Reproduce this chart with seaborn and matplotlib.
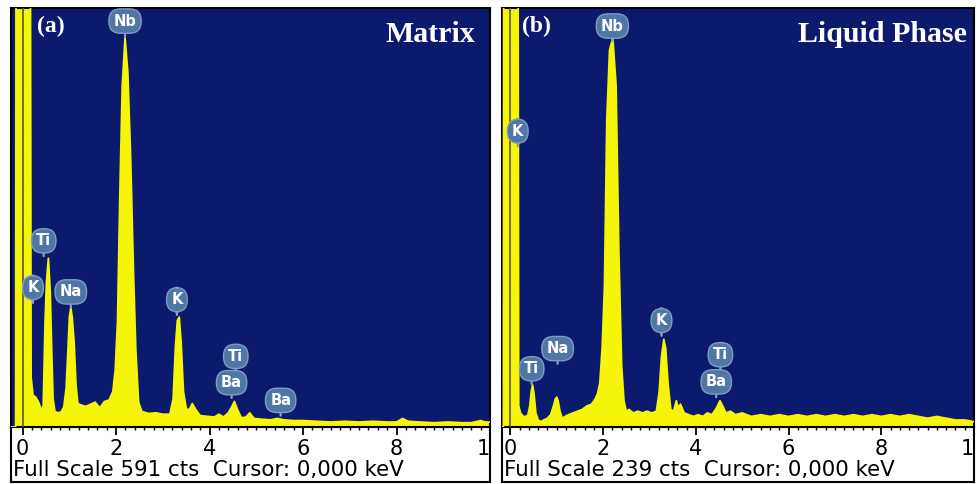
import numpy as np
import pandas as pd
import matplotlib
matplotlib.use("Agg")
import matplotlib.pyplot as plt
import seaborn as sns

# ---------------- data ----------------
energy_a = [-0.25, -0.15, -0.14, 0.16, 0.18, 0.22, 0.28, 0.34, 0.40, 0.44, 0.48, 0.51, 0.55,
            0.59, 0.62, 0.65, 0.69, 0.75, 0.82, 0.88, 0.93, 0.97, 1.00, 1.03, 1.06, 1.10,
            1.14, 1.18, 1.25, 1.35, 1.45, 1.55, 1.65, 1.75, 1.85, 1.93, 1.98, 2.03, 2.08,
            2.13, 2.19, 2.25, 2.31, 2.37, 2.42, 2.48, 2.55, 2.70, 2.85, 3.00, 3.15, 3.22,
            3.27, 3.31, 3.35, 3.39, 3.44, 3.50, 3.56, 3.63, 3.70, 3.80, 3.95, 4.10, 4.20,
            4.30, 4.40, 4.47, 4.53, 4.60, 4.68, 4.78, 4.86, 4.95, 5.10, 5.30, 5.45, 5.60,
            5.80, 6.00, 6.30, 6.60, 6.90, 7.20, 7.50, 7.80, 8.00, 8.13, 8.25, 8.50, 8.80,
            9.10, 9.40, 9.60, 9.80, 9.90, 10.00]
counts_a = [0, 0, 900, 900, 70, 45, 42, 35, 24, 30, 150, 205, 238,
            190, 110, 40, 22, 20, 21, 28, 55, 110, 155, 168, 155, 120,
            60, 33, 31, 29, 32, 35, 27, 36, 38, 50, 80, 150, 330,
            480, 549, 500, 380, 220, 110, 35, 22, 19, 20, 18, 18, 40,
            115, 150, 155, 120, 50, 26, 24, 33, 25, 16, 15, 14, 18,
            14, 20, 28, 36, 24, 13, 14, 20, 12, 11, 10, 12, 10,
            9, 9, 8, 7, 8, 7, 8, 7, 7, 12, 8, 7, 6,
            7, 6, 6, 9, 7, 7]

energy_b = [-0.18, -0.15, -0.14, 0.16, 0.18, 0.22, 0.28, 0.34, 0.38, 0.42, 0.45, 0.48, 0.51,
            0.55, 0.60, 0.66, 0.72, 0.80, 0.87, 0.93, 0.97, 1.00, 1.03, 1.07, 1.12, 1.18,
            1.25, 1.35, 1.45, 1.55, 1.65, 1.75, 1.83, 1.88, 1.93, 1.98, 2.03, 2.08, 2.14,
            2.21, 2.28, 2.34, 2.40, 2.45, 2.50, 2.56, 2.65, 2.75, 2.85, 2.95, 3.05, 3.15,
            3.21, 3.26, 3.31, 3.35, 3.40, 3.46, 3.52, 3.58, 3.62, 3.67, 3.75, 3.85, 3.95,
            4.05, 4.15, 4.25, 4.35, 4.45, 4.52, 4.58, 4.65, 4.75, 4.85, 5.00, 5.20, 5.40,
            5.60, 5.80, 6.00, 6.20, 6.40, 6.60, 6.80, 7.00, 7.20, 7.40, 7.60, 7.80, 8.00,
            8.20, 8.40, 8.60, 8.80, 9.00, 9.20, 9.40, 9.60, 9.80, 10.00]
counts_b = [0, 0, 400, 400, 12, 8, 6, 6, 7, 12, 20, 24, 19,
            8, 4, 3, 4, 5, 7, 12, 16, 17, 15, 9, 5, 6,
            7, 8, 9, 10, 12, 13, 16, 19, 25, 45, 80, 175, 215,
            222, 195, 100, 35, 15, 9, 10, 8, 9, 8, 9, 8, 9,
            20, 40, 50, 45, 25, 10, 9, 15, 11, 13, 8, 7, 6,
            7, 6, 8, 7, 11, 15, 12, 8, 9, 7, 8, 6, 7,
            6, 7, 6, 7, 6, 7, 6, 7, 6, 7, 6, 7, 6,
            7, 6, 7, 6, 5, 6, 5, 4, 4, 3]

full_scale_a = 591
full_scale_b = 239

peak_names_a = ["Nb", "Ti", "K", "Na", "K", "Ti", "Ba", "Ba"]
peak_x_a = [2.19, 0.45, 0.22, 1.03, 3.30, 4.56, 4.47, 5.52]
peak_y_a = [551, 241, 175, 169, 158, 78, 41, 16]

peak_names_b = ["Nb", "K", "Ti", "Na", "K", "Ti", "Ba"]
peak_x_b = [2.20, 0.16, 0.46, 1.02, 3.26, 4.53, 4.44]
peak_y_b = [220, 160, 24.5, 36, 52, 32.5, 17]

tick_values = [0, 2, 4, 6, 8, 10]
tick_labels = ["0", "2", "4", "6", "8", "10"]

panels = [
    dict(tag="(a)", title="Matrix", energy=energy_a, counts=counts_a, full=full_scale_a,
         names=peak_names_a, px=peak_x_a, py=peak_y_a, xlim=(-0.25, 9.985),
         box=(11, 490), tag_x=0.054, title_x=0.969),
    dict(tag="(b)", title="Liquid Phase", energy=energy_b, counts=counts_b, full=full_scale_b,
         names=peak_names_b, px=peak_x_b, py=peak_y_b, xlim=(-0.18, 9.97),
         box=(502, 974), tag_x=0.042, title_x=0.985),
]

# ---------------- styling ----------------
sns.set_theme(style="white")
plt.rcParams["font.family"] = ["DejaVu Sans"]

W, H = 977, 484
fig = plt.figure(figsize=(W / 100, H / 100), dpi=100)
fig.patch.set_facecolor("white")

NAVY = "#0b1a6c"
YELLOW = "#f6f408"
plot_top, plot_bot, strip_bot = 8, 427, 482

for p in panels:
    x0, x1 = p["box"]
    # white scale strip beneath the spectrum
    ax_s = fig.add_axes([x0 / W, (H - strip_bot) / H, (x1 - x0) / W, (strip_bot - plot_bot) / H])
    ax_s.set_zorder(0)
    ax_s.set_facecolor("white")
    ax_s.set_xticks([])
    ax_s.set_yticks([])
    for s in ax_s.spines.values():
        s.set_color("black")
        s.set_linewidth(1.5)
    ax_s.text(0.004, 0.22, f"Full Scale {p['full']} cts  Cursor: 0,000 keV",
              transform=ax_s.transAxes, ha="left", va="center", fontsize=15.4,
              color="black", family=["DejaVu Sans"])

    ax = fig.add_axes([x0 / W, (H - plot_bot) / H, (x1 - x0) / W, (plot_bot - plot_top) / H])
    ax.set_zorder(1)
    ax.set_facecolor(NAVY)
    df = pd.DataFrame({"energy": p["energy"], "counts": p["counts"]})
    ax.fill_between(df["energy"], 0, df["counts"], color=YELLOW, lw=0, zorder=2)
    sns.lineplot(data=df, x="energy", y="counts", ax=ax, color=YELLOW, lw=1.3,
                 estimator=None, sort=False, zorder=3)
    ax.axvline(0, color="#5a5a20", lw=1.2, zorder=4)
    ax.set_xlim(*p["xlim"])
    ax.set_ylim(0, p["full"])
    ax.set_xlabel("")
    ax.set_ylabel("")
    ax.set_yticks([])
    ax.set_xticks(tick_values)
    ax.set_xticklabels(tick_labels)
    ax.set_xticks(np.arange(0, 10.01, 0.2), minor=True)
    ax.tick_params(axis="x", which="major", direction="out", length=6, width=1.3,
                   color="black", labelsize=15, pad=2.5, labelcolor="black")
    ax.tick_params(axis="x", which="minor", direction="out", length=2, width=1.0,
                   color="black")
    ax.xaxis.set_ticks_position("bottom")
    for lab in ax.get_xticklabels():
        lab.set_clip_on(True)
        lab.set_clip_box(ax_s.bbox)
    for s in ax.spines.values():
        s.set_color("black")
        s.set_linewidth(1.5)

    # peak labels
    for name, px, py in zip(p["names"], p["px"], p["py"]):
        ax.annotate(name, xy=(px, py), xytext=(0, 11), textcoords="offset points",
                    ha="center", va="center", fontsize=10.5, fontweight="bold",
                    color="white", zorder=6,
                    bbox=dict(boxstyle="round,pad=0.32,rounding_size=0.8",
                              fc="#4f77a6", ec="#7f9dc2", lw=1.0),
                    arrowprops=dict(arrowstyle="-", color="#86a4c8", lw=1.6,
                                    shrinkA=0, shrinkB=0))

    ax.text(p["tag_x"], 0.955, p["tag"], transform=ax.transAxes, ha="left", va="center",
            fontsize=17, fontweight="bold", color="white", family=["Liberation Serif"],
            zorder=7)
    ax.text(p["title_x"], 0.937, p["title"], transform=ax.transAxes, ha="right", va="center",
            fontsize=21.5, fontweight="bold", color="white", family=["Liberation Serif"],
            zorder=7)

fig.savefig("out.png", dpi=100, facecolor="white")
